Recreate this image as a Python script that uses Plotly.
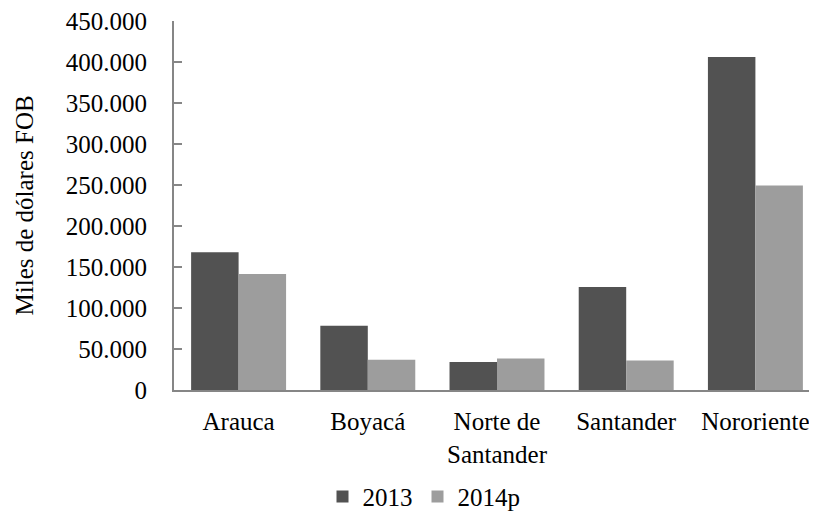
import plotly.graph_objects as go

categories = ["Arauca", "Boyacá", "Norte de<br>Santander", "Santander", "Nororiente"]
series_names = ["2013", "2014p"]
values_2013 = [168000, 78500, 34000, 125500, 406000]
values_2014p = [141500, 37000, 38500, 36000, 249500]
y_ticks = [0, 50000, 100000, 150000, 200000, 250000, 300000, 350000, 400000, 450000]
y_title = "Miles de dólares FOB"

FONT = "Liberation Serif, Times New Roman, serif"
FS = 25

fig = go.Figure()
fig.add_trace(go.Bar(name=series_names[0], x=categories, y=values_2013,
                     marker=dict(color="#525252", line=dict(width=0))))
fig.add_trace(go.Bar(name=series_names[1], x=categories, y=values_2014p,
                     marker=dict(color="#9d9d9d", line=dict(width=0))))

fig.update_layout(
    width=817, height=521,
    margin=dict(l=166, r=5, t=13, b=139, autoexpand=False),
    paper_bgcolor="white", plot_bgcolor="white",
    barmode="group", bargap=0.265, bargroupgap=0,
    separators=",.",
    font=dict(family=FONT, size=FS, color="black"),
    showlegend=True,
    legend=dict(orientation="h", x=0.387, xanchor="center", y=-0.289, yanchor="middle",
                font=dict(family=FONT, size=FS), traceorder="normal"),
    xaxis=dict(showline=True, linecolor="#868686", linewidth=2, ticks="",
               showgrid=False, automargin=False, ticklabelstandoff=8,
               tickfont=dict(family=FONT, size=FS)),
    yaxis=dict(range=[0, 450000], tickvals=y_ticks, tickformat=",d",
               showline=True, linecolor="#868686", linewidth=2,
               ticks="inside", ticklen=8, tickcolor="#868686", tickwidth=2,
               showgrid=False, zeroline=False, automargin=False,
               ticklabelstandoff=20, ticklabeloverflow="allow",
               tickfont=dict(family=FONT, size=FS)),
    annotations=[dict(text=y_title, textangle=-90, xref="paper", yref="paper",
                      x=-0.2307, y=0.5, xanchor="center", yanchor="middle",
                      showarrow=False, font=dict(family=FONT, size=FS))],
)

fig.write_html("out.html")
